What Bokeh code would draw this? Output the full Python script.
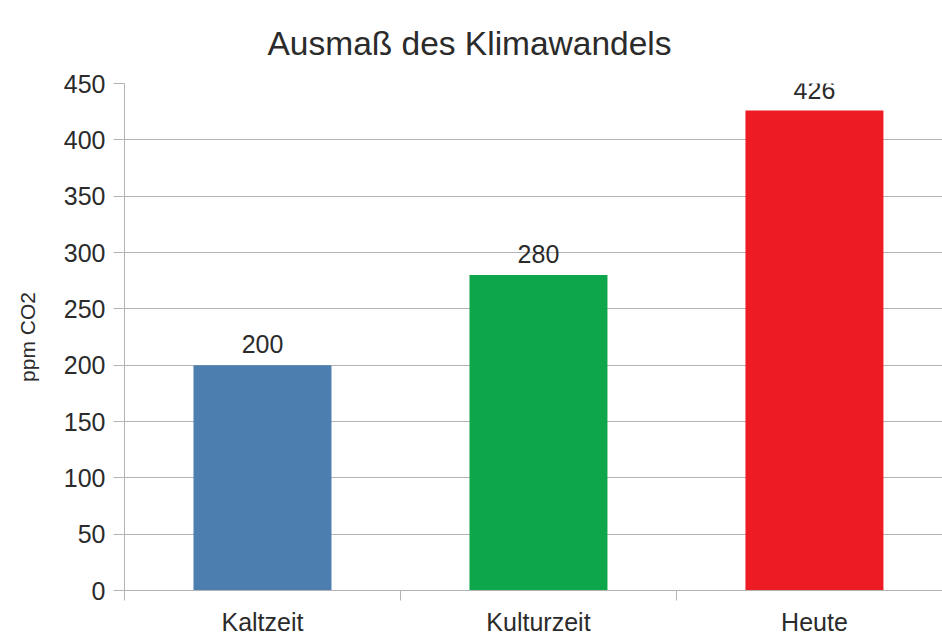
from bokeh.plotting import figure
from bokeh.models import ColumnDataSource, Range1d, FixedTicker, LabelSet
from bokeh.core.properties import value
from bokeh.embed import file_html
from bokeh.resources import INLINE

categories = ["Kaltzeit", "Kulturzeit", "Heute"]
values = [200, 280, 426]
colors = ["#4c7fb0", "#0ea64b", "#ed1c24"]
y_ticks = [0, 50, 100, 150, 200, 250, 300, 350, 400, 450]
title_text = "Ausmaß des Klimawandels"
y_label = "ppm CO2"

x = [i + 0.5 for i in range(len(categories))]
src = ColumnDataSource(dict(x=x, top=values, color=colors, lbl=[str(v) for v in values]))

FONT = "Liberation Sans"
TXT = "#2b2b2b"
GRID = "#b3b3b3"

p = figure(frame_width=818, frame_height=507, output_backend="svg", toolbar_location=None,
           x_range=Range1d(0, 2.964), y_range=Range1d(0, 450),
           min_border_left=124, min_border_right=0, min_border_top=83, min_border_bottom=0)
p.outline_line_color = None

p.vbar(x="x", top="top", bottom=0, width=0.5, fill_color="color", line_color=None, source=src)

labels = LabelSet(x="x", y="top", text="lbl", source=src, text_align="center",
                  text_baseline="alphabetic", y_offset=12, text_font=value(FONT),
                  text_font_size="25px", text_color=TXT)
p.add_layout(labels)

# title
p.title.text = title_text
p.title.text_font = FONT
p.title.text_font_size = "33.5px"
p.title.text_font_style = "normal"
p.title.text_color = TXT
p.title.align = "left"
p.title.offset = 143
p.title.standoff = 43

# y axis
p.yaxis.ticker = FixedTicker(ticks=y_ticks, minor_ticks=[])
p.yaxis.axis_label = y_label
p.yaxis.axis_label_text_font = FONT
p.yaxis.axis_label_text_font_size = "21px"
p.yaxis.axis_label_text_font_style = "normal"
p.yaxis.axis_label_text_color = TXT
p.yaxis.axis_label_standoff = 22
p.yaxis.major_label_text_font = FONT
p.yaxis.major_label_text_font_size = "25px"
p.yaxis.major_label_text_color = TXT
p.yaxis.major_label_standoff = 8
p.yaxis.major_tick_out = 11
p.yaxis.major_tick_in = 0
p.yaxis.minor_tick_out = 0
p.yaxis.minor_tick_in = 0
p.yaxis.axis_line_color = GRID
p.yaxis.major_tick_line_color = GRID

# x axis (category names centred under bars, separators between categories)
p.xaxis.ticker = FixedTicker(ticks=x, minor_ticks=list(range(len(categories) + 1)))
p.xaxis.major_label_overrides = {xx: c for xx, c in zip(x, categories)}
p.xaxis.major_label_text_font = FONT
p.xaxis.major_label_text_font_size = "25px"
p.xaxis.major_label_text_color = TXT
p.xaxis.major_label_standoff = 7
p.xaxis.major_tick_out = 0
p.xaxis.major_tick_in = 0
p.xaxis.minor_tick_out = 10
p.xaxis.minor_tick_in = 0
p.xaxis.minor_tick_line_color = GRID
p.xaxis.axis_line_color = GRID

p.xgrid.grid_line_color = None
p.ygrid.grid_line_color = GRID
p.ygrid.ticker = FixedTicker(ticks=y_ticks)

open("out.html", "w").write(file_html(p, INLINE))
